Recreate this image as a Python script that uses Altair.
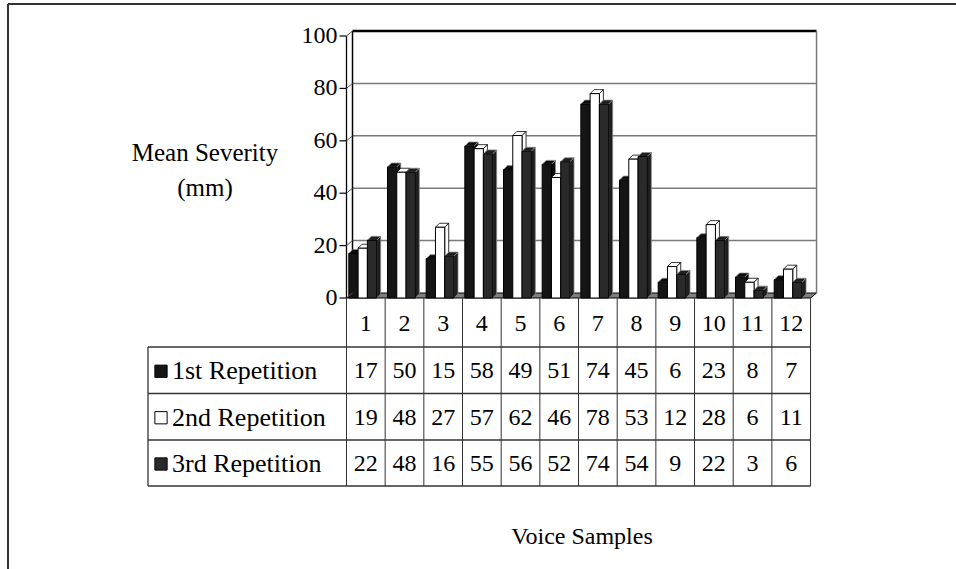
import altair as alt
import pandas as pd

# ---------------- data ----------------
samples = [str(i) for i in range(1, 13)]
series = ["1st Repetition", "2nd Repetition", "3rd Repetition"]
rep1 = [17, 50, 15, 58, 49, 51, 74, 45, 6, 23, 8, 7]
rep2 = [19, 48, 27, 57, 62, 46, 78, 53, 12, 28, 6, 11]
rep3 = [22, 48, 16, 55, 56, 52, 74, 54, 9, 22, 3, 6]
y_ticks = [0, 20, 40, 60, 80, 100]
y_title = ["Mean Severity", "(mm)"]
x_title = "Voice Samples"

values = [rep1, rep2, rep3]
front_fill = ["#151515", "#ffffff", "#2a2a2a"]
face_fill = ["#0a0a0a", "#ffffff", "#1e1e1e"]
face_stroke = ["#8a8a8a", "#000000", "#8a8a8a"]
FONT = "Liberation Serif"

# ---------------- layout (pixels -> data units) ----------------
W, H = 948, 565          # plot area (starts at page px 8,4)
OX, OY = 8, 4
X0, KX = 346.5, 38.67    # px of x=0, px per column
Y0, KY = 298.0, 2.62     # px of y=0, px per unit


def xd(px):
    return (px - X0) / KX


def yd(py):
    return (Y0 - py) / KY


xs = alt.Scale(domain=[xd(OX), xd(OX + W)], nice=False, zero=False)
ys = alt.Scale(domain=[yd(OY + H), yd(OY)], nice=False, zero=False)

WDX, WDY = 6 / KX, 5 / KY      # back wall depth
BDX, BDY = 4 / KX, 4 / KY      # bar depth
BAR_START, BAR_W = 0.06, 0.24
N = len(samples)


def ex(f="x"):
    return alt.X(f + ":Q", scale=xs, axis=None)


def ey(f="y"):
    return alt.Y(f + ":Q", scale=ys, axis=None, stack=None)


layers = []

# floor (parallelogram)
floor = pd.DataFrame({
    "x": [0, WDX, N, N + WDX],
    "y": [0, 0, 0, WDY],
    "y2": [0, WDY, WDY, WDY],
})
layers.append(alt.Chart(floor).mark_area(fill="#7e7e7e", stroke="black", strokeWidth=1, interpolate="linear")
              .encode(x=ex(), y=ey(), y2="y2:Q"))

# back wall grid lines
grid = pd.DataFrame({"v": [t for t in y_ticks if 0 < t < 100]})
grid["x"] = WDX
grid["x2"] = N + WDX
grid["y"] = grid["v"] + WDY
layers.append(alt.Chart(grid).mark_rule(color="#7a7a7a", strokeWidth=1.5)
              .encode(x=ex(), x2="x2:Q", y=ey()))
top = pd.DataFrame({"x": [WDX], "x2": [N + WDX], "y": [max(y_ticks) + WDY]})
layers.append(alt.Chart(top).mark_rule(color="black", strokeWidth=2.5)
              .encode(x=ex(), x2="x2:Q", y=ey()))
walls = pd.DataFrame({"x": [WDX, N + WDX], "y": [WDY, WDY], "y2": [max(y_ticks) + WDY] * 2,
                      "c": ["black", "#7a7a7a"]})
layers.append(alt.Chart(walls).mark_rule(strokeWidth=1.5)
              .encode(x=ex(), y=ey(), y2="y2:Q", color=alt.Color("c:N", scale=None)))

# bars
for s, vals in enumerate(values):
    fr, fc = [], []
    for i, v in enumerate(vals):
        x0 = i + BAR_START + s * BAR_W
        x1 = x0 + BAR_W
        fr.append({"x": x0, "x2": x1, "y": 0, "y2": v, "series": series[s], "sample": samples[i]})
        bid = f"{i}"
        # top face
        for px_, a, b in [(x0, v, v), (x0 + BDX, v, v + BDY), (x1, v, v + BDY), (x1 + BDX, v + BDY, v + BDY)]:
            fc.append({"g": bid + "t", "x": px_, "y": a, "y2": b})
        # side face
        for px_, a, b in [(x1, 0, v), (x1 + BDX, BDY, v + BDY)]:
            fc.append({"g": bid + "s", "x": px_, "y": a, "y2": b})
    layers.append(alt.Chart(pd.DataFrame(fc)).mark_area(fill=face_fill[s], stroke=face_stroke[s],
                                                         strokeWidth=0.8, interpolate="linear")
                  .encode(x=ex(), y=ey(), y2="y2:Q", detail="g:N"))
    layers.append(alt.Chart(pd.DataFrame(fr)).mark_rect(fill=front_fill[s], stroke="black", strokeWidth=1)
                  .encode(x=ex(), x2="x2:Q", y=ey(), y2="y2:Q",
                          tooltip=["series:N", "sample:N", alt.Tooltip("y2:Q", title="value")]))

# front axis, ticks, connectors, labels
ax = pd.DataFrame({"x": [0], "y": [0], "y2": [max(y_ticks)]})
layers.append(alt.Chart(ax).mark_rule(color="black", strokeWidth=1.3)
              .encode(x=ex(), y=ey(), y2="y2:Q"))
tk = pd.DataFrame({"v": y_ticks})
tk["x"] = xd(X0 - 7)
tk["x2"] = 0.0
tk["y"] = tk["v"]
layers.append(alt.Chart(tk).mark_rule(color="black", strokeWidth=1.2)
              .encode(x=ex(), x2="x2:Q", y=ey()))
cn = pd.DataFrame({"v": y_ticks})
cn["x"] = 0.0
cn["x2"] = WDX
cn["y"] = cn["v"]
cn["y2"] = cn["v"] + WDY
layers.append(alt.Chart(cn).mark_rule(color="#555555", strokeWidth=1)
              .encode(x=ex(), x2="x2:Q", y=ey(), y2="y2:Q"))
tl = pd.DataFrame({"v": y_ticks})
tl["x"] = xd(X0 - 9)
tl["y"] = tl["v"]
tl["t"] = tl["v"].astype(str)
layers.append(alt.Chart(tl).mark_text(align="right", baseline="middle", font=FONT, fontSize=24, color="black")
              .encode(x=ex(), y=ey(), text="t:N"))

# data table lines
ROW_PX = [347, 393.5, 440, 486]
vl = pd.DataFrame({"x": list(range(N + 1))})
vl["y"] = 0.0
vl["y2"] = yd(ROW_PX[-1])
layers.append(alt.Chart(vl).mark_rule(color="#333333", strokeWidth=1)
              .encode(x=ex(), y=ey(), y2="y2:Q"))
hl = pd.DataFrame({"y": [yd(p) for p in ROW_PX]})
hl["x"] = xd(148)
hl["x2"] = float(N)
layers.append(alt.Chart(hl).mark_rule(color="#333333", strokeWidth=1.3)
              .encode(x=ex(), x2="x2:Q", y=ey()))
lb = pd.DataFrame({"x": [xd(148)], "y": [yd(ROW_PX[0])], "y2": [yd(ROW_PX[-1])]})
layers.append(alt.Chart(lb).mark_rule(color="#333333", strokeWidth=1.3)
              .encode(x=ex(), y=ey(), y2="y2:Q"))

# header numbers
hd = pd.DataFrame({"t": samples})
hd["x"] = [i + 0.5 for i in range(N)]
hd["y"] = yd(324)
layers.append(alt.Chart(hd).mark_text(align="center", baseline="middle", font=FONT, fontSize=24, color="black")
              .encode(x=ex(), y=ey(), text="t:N"))

# table values and row labels
rows = []
lab = []
for s, vals in enumerate(values):
    cy = yd((ROW_PX[s] + ROW_PX[s + 1]) / 2 + 1)
    for i, v in enumerate(vals):
        rows.append({"x": i + 0.5, "y": cy, "t": str(v)})
    lab.append({"x": xd(172), "y": cy, "t": series[s], "sx": xd(161), "c": front_fill[s]})
layers.append(alt.Chart(pd.DataFrame(rows)).mark_text(align="center", baseline="middle", font=FONT,
                                                       fontSize=24, color="black")
              .encode(x=ex(), y=ey(), text="t:N"))
labdf = pd.DataFrame(lab)
layers.append(alt.Chart(labdf).mark_text(align="left", baseline="middle", font=FONT, fontSize=26, color="black")
              .encode(x=ex(), y=ey(), text="t:N"))
layers.append(alt.Chart(labdf).mark_square(size=150, stroke="black", strokeWidth=1, opacity=1)
              .encode(x=ex("sx"), y=ey(), fill=alt.Fill("c:N", scale=None)))

# titles
tt = pd.DataFrame({"t": y_title, "x": [205 - OX, 205 - OX], "y": [153 - OY, 188 - OY]})
layers.append(alt.Chart(tt).mark_text(align="center", baseline="middle", font=FONT, fontSize=25, color="black")
              .encode(x=alt.X("x:Q", scale=None, axis=None), y=alt.Y("y:Q", scale=None, axis=None), text="t:N"))
xt = pd.DataFrame({"t": [x_title]})
layers.append(alt.Chart(xt).mark_text(align="center", baseline="middle", font=FONT, fontSize=24, color="black")
              .encode(x=alt.value(582 - OX), y=alt.value(537 - OY), text="t:N"))

# outer frame (left and top edges only)
fr1 = pd.DataFrame({"k": [1]})
layers.append(alt.Chart(fr1).mark_rule(color="#333333", strokeWidth=2)
              .encode(x=alt.value(0), y=alt.value(0), y2=alt.value(H + 10)))
layers.append(alt.Chart(fr1).mark_rule(color="#333333", strokeWidth=2)
              .encode(x=alt.value(0), x2=alt.value(W + 10), y=alt.value(0)))

chart = alt.layer(*layers).properties(
    width=W, height=H,
    padding={"left": OX, "top": OY, "right": 0, "bottom": 0},
    autosize=alt.AutoSizeParams(type="none"),
    background="white",
).configure_view(stroke=None)

chart.save("out.html", embed_options={"renderer": "svg", "actions": False})
